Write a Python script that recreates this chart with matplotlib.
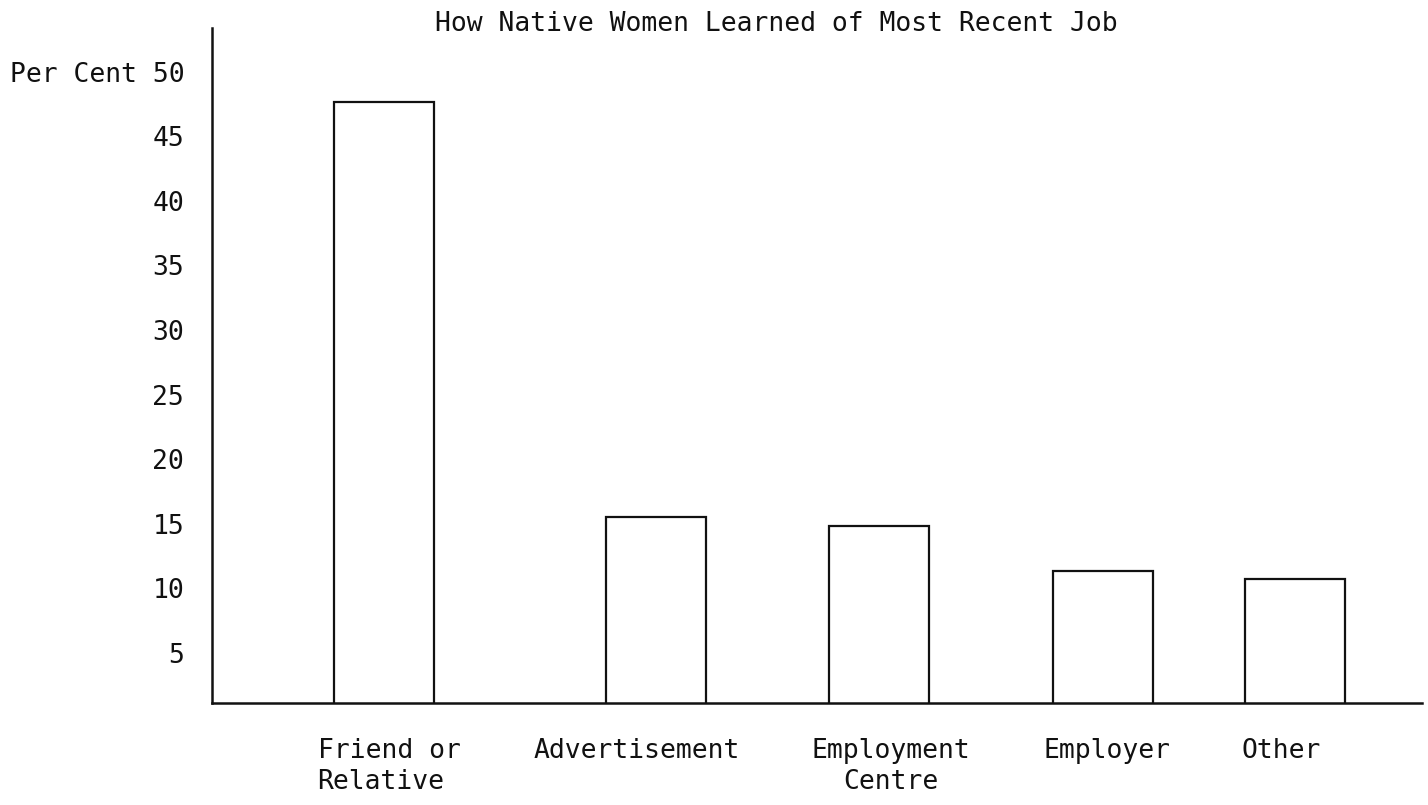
import matplotlib
matplotlib.use("Agg")
from matplotlib import pyplot as plt

# データ
categories = ["Friend or\nRelative", "Advertisement", "Employment\nCentre", "Employer", "Other"]
percent = [47.7, 15.5, 14.8, 11.3, 10.7]
yticks = [50, 45, 40, 35, 30, 25, 20, 15, 10, 5]
ytick_labels = ["Per Cent 50", "45", "40", "35", "30", "25", "20", "15", "10", "5"]
title = "How Native Women Learned of Most Recent Job"

# 配置 (1 unit = 100 px)
bar_x = [1.72, 4.435, 6.665, 8.91, 10.825]
label_x = [1.77, 4.25, 6.79, 8.95, 10.69]
label_align = ["left", "center", "center", "center", "center"]

ink = "#111111"
plt.rcParams["font.family"] = ["DejaVu Sans Mono"]

fig = plt.figure(figsize=(14.28, 8.05), dpi=100)
ax = fig.add_axes([212 / 1428, 102 / 805, (1422 - 212) / 1428, (703 - 28) / 805])

ax.bar(bar_x, percent, width=1.0, facecolor="white", edgecolor=ink, linewidth=1.6)

ax.set_xlim(0, 12.1)
ax.set_ylim(1.1, 53.4)

ax.set_yticks(yticks)
ax.set_yticklabels(ytick_labels, fontsize=19, color=ink)
ax.tick_params(axis="y", length=0, pad=20)

ax.set_xticks(label_x)
ax.set_xticklabels(categories, fontsize=19, color=ink, linespacing=1.25)
for lab, al in zip(ax.get_xticklabels(), label_align):
    lab.set_multialignment(al)
ax.tick_params(axis="x", length=0, pad=25)

for s in ["top", "right"]:
    ax.spines[s].set_visible(False)
for s in ["left", "bottom"]:
    ax.spines[s].set_linewidth(1.8)
    ax.spines[s].set_color(ink)

fig.text(776 / 1428, 1 - 24 / 805, title, fontsize=19, color=ink, ha="center", va="center")

fig.savefig("out.png", dpi=100, facecolor="white")
